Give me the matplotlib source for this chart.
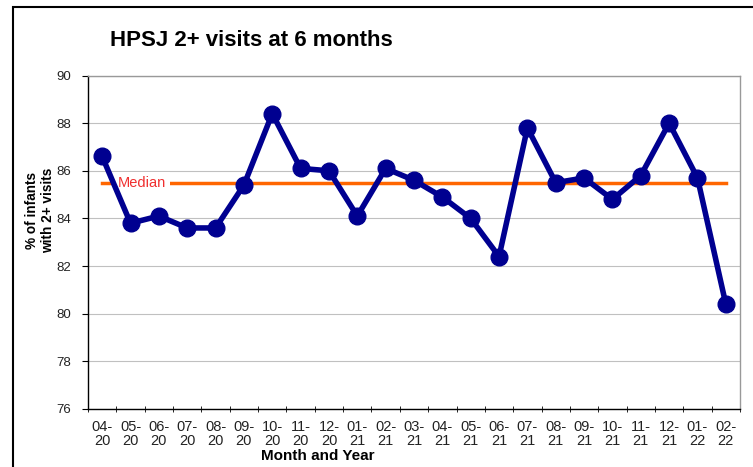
import matplotlib
matplotlib.use("Agg")
import matplotlib.pyplot as plt
from matplotlib.patches import Rectangle
import numpy as np

months = ["04-\n20", "05-\n20", "06-\n20", "07-\n20", "08-\n20", "09-\n20", "10-\n20", "11-\n20",
          "12-\n20", "01-\n21", "02-\n21", "03-\n21", "04-\n21", "05-\n21", "06-\n21", "07-\n21",
          "08-\n21", "09-\n21", "10-\n21", "11-\n21", "12-\n21", "01-\n22", "02-\n22"]
values = [86.6, 83.8, 84.1, 83.6, 83.6, 85.4, 88.4, 86.1, 86.0, 84.1, 86.1, 85.6, 84.9,
          84.0, 82.4, 87.8, 85.5, 85.7, 84.8, 85.8, 88.0, 85.7, 80.4]
median_value = 85.5
y_ticks = [76, 78, 80, 82, 84, 86, 88, 90]

plt.rcParams['font.family'] = ['Liberation Sans', 'DejaVu Sans']

W, H = 753, 467
fig = plt.figure(figsize=(W / 100, H / 100), dpi=100)
fig.patch.set_facecolor('white')

# outer frame
fig.patches.append(Rectangle((13 / W, -0.05), 1.1, 1 - 7 / H + 0.05, transform=fig.transFigure,
                             fill=False, edgecolor='black', linewidth=1.5, clip_on=False))

ax = fig.add_axes([88 / W, 1 - 409 / H, (740 - 88) / W, (409 - 75.5) / H])
x = np.arange(len(values))
ax.set_xlim(-0.5, len(values) - 0.5)
ax.set_ylim(76, 90)

ax.yaxis.grid(True, color='#c0c0c0', linewidth=0.8)
ax.set_axisbelow(True)

ax.plot([x[0], x[-1]], [median_value, median_value], color='#FF6600', linewidth=2.5, zorder=2)
ax.text(0.55, median_value, "Median", color='#F03030', fontsize=10.5, va='center', ha='left',
        bbox=dict(facecolor='white', edgecolor='none', pad=2.5), zorder=3)

ax.plot(x, values, color='#000090', linewidth=4, marker='o', markersize=12,
        markerfacecolor='#000090', markeredgecolor='#000090', zorder=4, clip_on=False)

ax.set_yticks(y_ticks)
ax.set_yticklabels([str(v) for v in y_ticks], fontsize=9.5, color='#222222')
ax.set_xticks(x)
ax.set_xticklabels(months, fontsize=10.5, color='#222222', linespacing=0.95)
ax.set_xticks(np.arange(-0.5, len(values), 1), minor=True)
ax.tick_params(axis='x', which='major', length=0, pad=8)
ax.tick_params(axis='x', which='minor', length=5, direction='inout', color='black')
ax.tick_params(axis='y', length=4, direction='out', color='black', pad=8)

for s in ['top', 'right']:
    ax.spines[s].set_color('#999999')
    ax.spines[s].set_linewidth(1)
for s in ['left', 'bottom']:
    ax.spines[s].set_color('black')
    ax.spines[s].set_linewidth(1)

fig.text(318 / W, 1 - 456 / H, "Month and Year", fontsize=11, fontweight='bold',
         ha='center', va='center')
fig.text(40 / W, 1 - 210 / H, "% of infants\nwith 2+ visits", fontsize=9.8, fontweight='bold',
         ha='center', va='center', rotation=90, linespacing=1.2)

fig.text(110 / W, 1 - 41 / H, "HPSJ 2+ visits at 6 months", fontsize=16, fontweight='bold',
         ha='left', va='center')

fig.savefig("out.png", dpi=100, facecolor='white')
